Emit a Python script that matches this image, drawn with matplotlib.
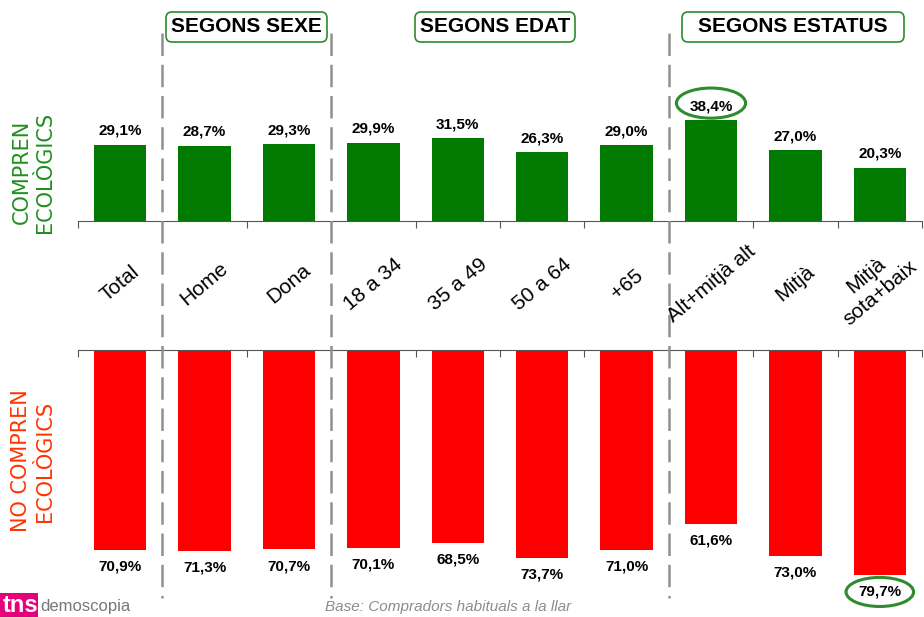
import matplotlib.pyplot as plt
import matplotlib.transforms as mtransforms
from matplotlib.patches import FancyBboxPatch, Ellipse, Rectangle
from matplotlib.lines import Line2D

plt.rcParams['font.family'] = ['Liberation Sans', 'DejaVu Sans']

# data
categories = ['Total', 'Home', 'Dona', '18 a 34', '35 a 49', '50 a 64', '+65',
              'Alt+mitjà alt', 'Mitjà', 'Mitjà\nsota+baix']
compren = [29.1, 28.7, 29.3, 29.9, 31.5, 26.3, 29.0, 38.4, 27.0, 20.3]
no_compren = [70.9, 71.3, 70.7, 70.1, 68.5, 73.7, 71.0, 61.6, 73.0, 79.7]
groups = ['SEGONS SEXE', 'SEGONS EDAT', 'SEGONS ESTATUS']
group_breaks = [0.5, 2.5, 6.5]
highlight_top = 7
highlight_bottom = 9

W, H = 924, 617
green = '#007A00'
red = '#FF0000'
box_green = '#2E8B2E'
axis_col = '#555555'

fig = plt.figure(figsize=(W / 100, H / 100), dpi=100)


def fx(px):
    return px / W


def fy(py):
    return 1 - py / H


ax1 = fig.add_axes([fx(78), fy(221), (922 - 78) / W, (221 - 60) / H])
ax2 = fig.add_axes([fx(78), fy(610), (922 - 78) / W, (610 - 350) / H])

x = list(range(len(categories)))
ax1.bar(x, compren, width=0.62, color=green)
ax2.bar(x, no_compren, width=0.62, color=red)
ax1.set_ylim(0, 161 / 2.62)
ax2.set_ylim(260 / 2.82, 0)

for ax in (ax1, ax2):
    ax.set_xlim(-0.5, len(categories) - 0.5)
    ax.set_xticks([i - 0.5 for i in range(len(categories) + 1)])
    ax.set_xticklabels([])
    ax.set_yticks([])
    for s in ax.spines.values():
        s.set_visible(False)
    ax.patch.set_visible(False)

ax1.spines['bottom'].set_visible(True)
ax1.spines['bottom'].set_color(axis_col)
ax1.tick_params(axis='x', length=5, color=axis_col, direction='out')
ax2.spines['top'].set_visible(True)
ax2.spines['top'].set_color(axis_col)
ax2.xaxis.tick_top()
ax2.tick_params(axis='x', length=5, color=axis_col, direction='in')


def pct(v):
    return f'{v:.1f}%'.replace('.', ',')


for i, v in enumerate(compren):
    ax1.annotate(pct(v), (i, v), xytext=(0, 5), textcoords='offset points',
                 ha='center', va='bottom', fontsize=11, fontweight='bold')
for i, v in enumerate(no_compren):
    ax2.annotate(pct(v), (i, v), xytext=(0, -7), textcoords='offset points',
                 ha='center', va='top', fontsize=11, fontweight='bold')

# highlight ellipses
ax1.add_patch(Ellipse((highlight_top, compren[highlight_top] + 6.6), 0.82, 11.5,
                      fill=False, ec=box_green, lw=2.2, clip_on=False))
ax2.add_patch(Ellipse((highlight_bottom, no_compren[highlight_bottom] + 6.1), 0.8, 10.3,
                      fill=False, ec=box_green, lw=2.2, clip_on=False))

# category labels
blend = mtransforms.blended_transform_factory(ax1.transData, fig.transFigure)
for i, c in enumerate(categories):
    shift = -0.08 if '\n' in c else 0
    fig.text(i + shift, fy(284), c, transform=blend, rotation=40, rotation_mode='anchor',
             ha='center', va='center', fontsize=15, multialignment='center',
             linespacing=1.25)

# dashed group separators
for b in group_breaks:
    fig.add_artist(Line2D([b, b], [fy(33), fy(598)], transform=blend,
                          color='#909090', lw=1.8, linestyle=(0, (9, 3.5))))

# group header boxes (positions in inches at 100 dpi)
boxes = [(166, 327), (415, 575), (682, 904)]
for (x0, x1), g in zip(boxes, groups):
    fig.add_artist(FancyBboxPatch((x0 / 100, (H - 42) / 100), (x1 - x0) / 100, 0.30,
                                  boxstyle='round,pad=0,rounding_size=0.06',
                                  transform=fig.dpi_scale_trans,
                                  fc='white', ec=box_green, lw=1.2))
    fig.text((x0 + x1) / 2 / W, fy(27), g, ha='center', va='center',
             fontsize=15, fontweight='bold')

# side labels
fig.text(fx(33), fy(172), 'COMPREN\nECOLÒGICS', rotation=90, ha='center', va='center',
         color='#1F8F1F', fontsize=15, family=['DejaVu Sans'], linespacing=1.2,
         multialignment='center')
fig.text(fx(33), fy(461), 'NO COMPREN\nECOLÒGICS', rotation=90, ha='center', va='center',
         color='#FF3300', fontsize=15, family=['DejaVu Sans'], linespacing=1.2,
         multialignment='center')

# footer
fig.text(fx(325), fy(607), 'Base: Compradors habituals a la llar', ha='left', va='center',
         fontsize=11, style='italic', color='#8C8C8C')

# logo
fig.add_artist(Rectangle((0, 0), fx(38), 24 / H, transform=fig.transFigure,
                         fc='#E6007E', ec='none'))
fig.text(fx(3), fy(605), 'tns', ha='left', va='center', color='white',
         fontsize=17, fontweight='bold')
fig.text(fx(40), fy(606), 'demoscopia', ha='left', va='center', color='#777777',
         fontsize=12, family=['Liberation Sans Narrow', 'Liberation Sans'])

fig.savefig('out.png', dpi=100)
